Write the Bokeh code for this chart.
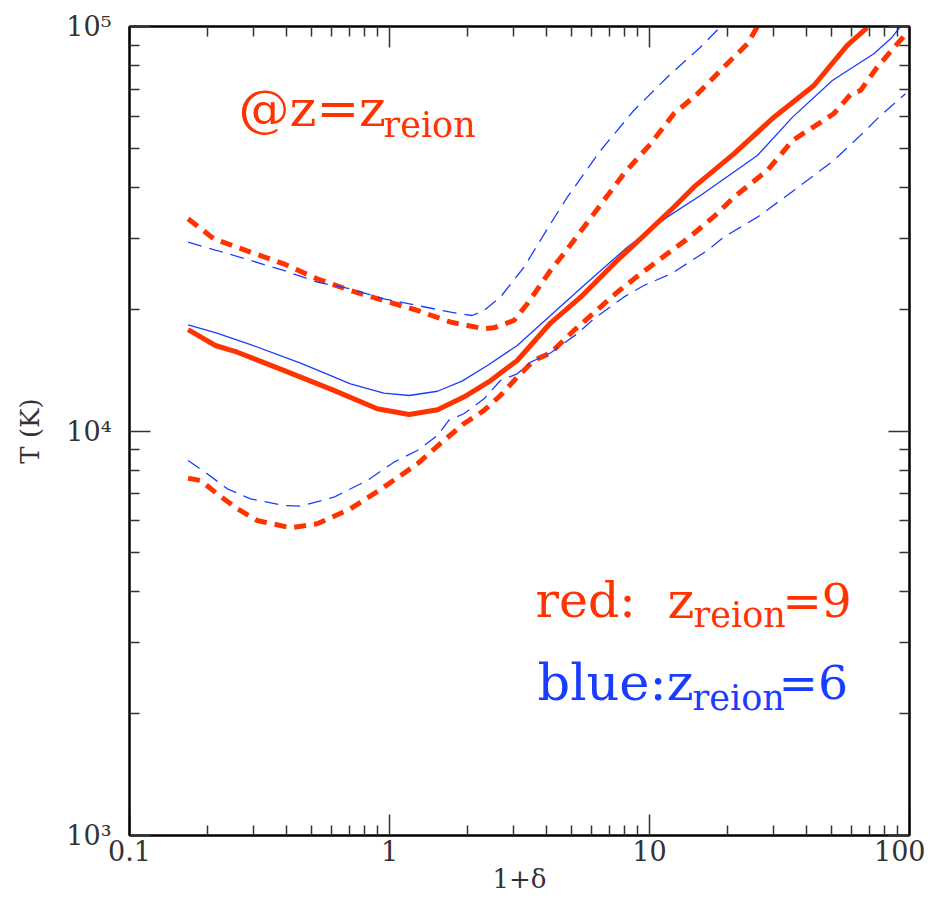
from bokeh.plotting import figure
from bokeh.models import Range1d, LogAxis, FixedTicker, Label
from bokeh.embed import file_html
from bokeh.resources import INLINE

# ---- data (x = 1+delta, T in K) ----
red_solid_x = [0.168, 0.214, 0.260, 0.392, 0.611, 0.897, 1.19, 1.53, 1.93, 2.45, 3.10, 4.16, 5.43, 7.51, 9.23,
               12.4, 14.8, 21.1, 30.1, 42.9, 57.6, 68.7]
red_solid_T = [17800, 16270, 15660, 14120, 12600, 11350, 10990, 11280, 12130, 13330, 14940, 18490, 21420, 26400,
               29860, 35740, 40070, 48440, 59680, 71470, 89770, 99300]

blue_solid_x = [0.168, 0.217, 0.292, 0.455, 0.708, 0.951, 1.19, 1.53, 1.90, 2.38, 3.10, 4.16, 5.59, 8.21, 11.7,
                15.7, 26.0, 35.5, 50.5, 72.9, 85.8, 92.3]
blue_solid_T = [18300, 17450, 16360, 14710, 13080, 12400, 12240, 12540, 13280, 14520, 16270, 19300, 22890, 28470,
                33780, 38220, 47990, 59700, 73560, 85600, 94100, 100000]

red_up_x = [0.168, 0.211, 0.292, 0.392, 0.527, 0.708, 0.951, 1.28, 1.72, 2.31, 2.52, 3.01, 3.39, 4.16, 4.68,
            6.11, 7.96, 10.1, 12.4, 15.3, 19.9, 23.8, 26.0]
red_up_T = [33460, 29870, 27670, 25900, 23780, 22250, 21020, 19860, 18580, 17890, 17990, 18760, 20630, 24940,
            27430, 34440, 43240, 51290, 60850, 68160, 80900, 90600, 100000]

blue_up_x = [0.168, 0.217, 0.292, 0.392, 0.527, 0.708, 0.951, 1.28, 1.72, 2.08, 2.31, 2.67, 3.29, 4.16, 4.83,
             6.48, 8.70, 11.7, 15.7, 18.8]
blue_up_T = [29290, 27940, 26400, 24940, 23330, 22470, 21220, 20430, 19670, 19300, 19860, 21420, 25400, 32530,
             37840, 49360, 61990, 74930, 88900, 100000]

red_lo_x = [0.168, 0.188, 0.217, 0.260, 0.310, 0.416, 0.527, 0.708, 0.951, 1.28, 1.62, 1.93, 2.31, 2.67, 3.10,
            3.59, 4.16, 5.12, 7.51, 9.23, 11.7, 14.0, 18.2, 21.1, 28.4, 35.5, 51.1, 59.6, 64.8, 75.1, 89.7, 99.4]
red_lo_T = [7640, 7544, 6995, 6422, 6008, 5764, 5896, 6422, 7262, 8297, 9474, 10420, 11240, 12240, 13590,
            14940, 15590, 17720, 22030, 24470, 27430, 29860, 34440, 37840, 44060, 52260, 60850, 68160, 69470,
            79300, 90600, 97750]

blue_lo_x = [0.168, 0.199, 0.238, 0.292, 0.392, 0.455, 0.611, 0.821, 1.04, 1.28, 1.53, 1.69, 1.93, 2.31, 2.67,
             3.10, 3.49, 4.16, 5.27, 6.11, 7.96, 9.51, 12.1, 16.7, 19.3, 26.0, 35.9, 51.1, 66.7, 77.4, 96.5]
blue_lo_T = [8453, 7840, 7195, 6798, 6543, 6518, 6860, 7544, 8374, 8951, 9748, 10620, 11030, 12010, 13330,
             13850, 14800, 15590, 17390, 18940, 21420, 22890, 24470, 27940, 30140, 33780, 39330, 46640, 54790,
             60250, 68160]

x_major = [0.1, 1, 10, 100]
x_major_labels = ["0.1", "1", "10", "100"]
x_minor = [0.2, 0.3, 0.4, 0.5, 0.6, 0.7, 0.8, 0.9, 2, 3, 4, 5, 6, 7, 8, 9, 20, 30, 40, 50, 60, 70, 80, 90]
y_major = [1000, 10000, 100000]
y_major_labels = ["10³", "10⁴", "10⁵"]
y_minor = [2000, 3000, 4000, 5000, 6000, 7000, 8000, 9000, 20000, 30000, 40000, 50000, 60000, 70000, 80000, 90000]

RED = "#ff3300"
BLUE = "#1a3cff"
FONT = "DejaVu Serif"

p = figure(width=925, height=903, x_axis_type="log", y_axis_type="log",
           x_range=Range1d(0.1, 100), y_range=Range1d(1000, 100000),
           output_backend="svg", toolbar_location=None,
           min_border_left=129, min_border_right=16, min_border_top=26, min_border_bottom=68,
           x_axis_label="1+δ", y_axis_label="T (K)")
p.grid.visible = False
p.outline_line_color = "black"
p.outline_line_width = 2
p.background_fill_color = "white"
p.border_fill_color = "white"

xt = FixedTicker(ticks=x_major, minor_ticks=x_minor)
yt = FixedTicker(ticks=y_major, minor_ticks=y_minor)


def style(ax, labels=True):
    ax.major_tick_in = 21
    ax.major_tick_out = 0
    ax.minor_tick_in = 10
    ax.minor_tick_out = 0
    ax.major_tick_line_color = "#333333"
    ax.minor_tick_line_color = "#333333"
    ax.major_tick_line_width = 1.5
    ax.minor_tick_line_width = 1.5
    ax.axis_line_color = "black"
    ax.axis_line_width = 2
    ax.major_label_text_font = FONT
    ax.major_label_text_font_size = "27px" if labels else "1px"
    ax.major_label_text_color = "#333333"
    if not labels:
        ax.major_label_text_alpha = 0
    ax.axis_label_text_font = FONT
    ax.axis_label_text_font_size = "26px"
    ax.axis_label_text_font_style = "normal"
    ax.axis_label_text_color = "#333333"


xa = p.xaxis[0]
xa.ticker = xt
xa.major_label_overrides = dict(zip(x_major, x_major_labels))
style(xa)
xa.major_label_standoff = 4
xa.axis_label_standoff = 0

ya = p.yaxis[0]
ya.ticker = yt
ya.major_label_overrides = dict(zip(y_major, y_major_labels))
style(ya)
ya.major_label_standoff = 18
ya.axis_label_standoff = 18
ya.axis_label_text_font_size = "26px"

top = LogAxis(ticker=FixedTicker(ticks=x_major, minor_ticks=x_minor))
style(top, labels=False)
top.major_label_standoff = 0
p.add_layout(top, "above")
right = LogAxis(ticker=FixedTicker(ticks=y_major, minor_ticks=y_minor))
style(right, labels=False)
right.major_label_standoff = 0
p.add_layout(right, "right")

# curves
p.line(red_up_x, red_up_T, line_color=RED, line_width=5, line_dash="12 8")
p.line(red_lo_x, red_lo_T, line_color=RED, line_width=5, line_dash="12 8")
p.line(blue_up_x, blue_up_T, line_color=BLUE, line_width=1.3, line_dash="14 8")
p.line(blue_lo_x, blue_lo_T, line_color=BLUE, line_width=1.3, line_dash="14 8")
p.line(blue_solid_x, blue_solid_T, line_color=BLUE, line_width=1.3)
p.line(red_solid_x, red_solid_T, line_color=RED, line_width=5)


def lab(x, y, t, size, color):
    p.add_layout(Label(x=x, y=y, text=t, text_font=FONT, text_font_size=size, text_color=color,
                       text_align="left", text_baseline="alphabetic"))


# title annotation "@z=z_reion"
lab(0.2626, 62710, "@z=z", "51px", RED)
lab(0.948, 56930, "reion", "35px", RED)
# legend texts
lab(3.643, 3811, "red:", "49px", RED)
lab(11.73, 3811, "z", "51px", RED)
lab(14.77, 3499, "reion", "35px", RED)
lab(32.47, 3811, "=9", "47px", RED)
lab(3.709, 2389, "blue:z", "51px", BLUE)
lab(14.64, 2182, "reion", "35px", BLUE)
lab(31.35, 2389, "=6", "47px", BLUE)

open("out.html", "w").write(file_html(p, INLINE))
